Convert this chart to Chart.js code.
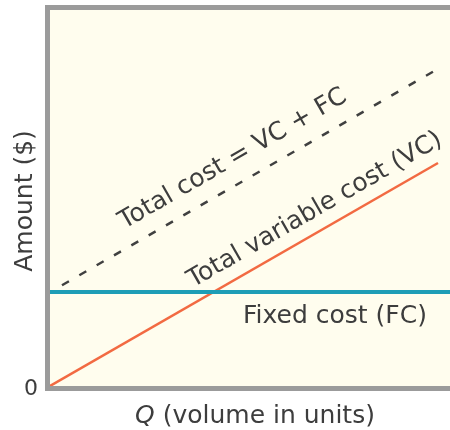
<!DOCTYPE html>
<html>
<head>
  <title>Cost Lines</title>
  <meta charset="UTF-8">
  <style>
    body {
      margin: 0;
      background: #ffffff;
    }
    #wrap {
      width: 450px;
      height: 430px;
    }
  </style>
  <script src="https://cdn.jsdelivr.net/npm/chart.js"></script>
</head>
<body>
  <div id="wrap">
    <canvas id="costChart"></canvas>
  </div>

  <script>
  // values (Q from 0 to 100, amount from 0 to 100)
  const fcQ = [0, 100];
  const fcAmount = [25, 25];

  const vcQ = [0, 97];
  const vcAmount = [0, 59.3];

  const tcQ = [3, 96.25];
  const tcAmount = [26.8, 83.9];

  const yTicks = [0];

  const fcLabel = "Fixed cost (FC)";
  const vcLabel = "Total variable cost (VC)";
  const tcLabel = "Total cost = VC + FC";
  const xTitle = "(volume in units)";
  const yTitle = "Amount ($)";

  function toPoints(xs, ys) {
    return xs.map((x, i) => ({ x: x, y: ys[i] }));
  }

  const textColor = "#3d3d3d";
  const font = "'DejaVu Sans', sans-serif";

  // background, axis lines and all the text
  const costDecor = {
    id: "costDecor",
    beforeDatasetsDraw(chart) {
      const ctx = chart.ctx;
      const a = chart.chartArea;
      ctx.save();
      ctx.fillStyle = "#fffdee";
      ctx.fillRect(a.left, a.top, a.right - a.left, a.bottom - a.top);
      ctx.restore();
    },
    afterDatasetsDraw(chart) {
      const ctx = chart.ctx;
      const a = chart.chartArea;
      const xs = chart.scales.x;
      const ys = chart.scales.y;

      ctx.save();
      // frame: left, top and bottom only
      ctx.strokeStyle = "#9b9b9b";
      ctx.lineWidth = 5;
      ctx.beginPath();
      ctx.moveTo(a.right, a.top - 2.5);
      ctx.lineTo(a.left - 2.5, a.top - 2.5);
      ctx.lineTo(a.left - 2.5, a.bottom + 2.5);
      ctx.lineTo(a.right, a.bottom + 2.5);
      ctx.stroke();

      ctx.fillStyle = textColor;

      // y tick
      ctx.font = "22px " + font;
      ctx.textAlign = "center";
      ctx.textBaseline = "middle";
      yTicks.forEach(t => {
        ctx.fillText(String(t), 31, ys.getPixelForValue(t) + 3);
      });

      // x title with italic Q
      ctx.textBaseline = "alphabetic";
      ctx.textAlign = "left";
      ctx.font = "italic 25px " + font;
      const qW = ctx.measureText("Q ").width;
      ctx.font = "25px " + font;
      const restW = ctx.measureText(xTitle).width;
      const x0 = (a.left + a.right) / 2 + 5 - (qW + restW) / 2;
      ctx.font = "italic 25px " + font;
      ctx.fillText("Q ", x0, 423);
      ctx.font = "25px " + font;
      ctx.fillText(xTitle, x0 + qW, 423);

      // y title
      ctx.save();
      ctx.translate(32, (a.top + a.bottom) / 2 + 3);
      ctx.rotate(-Math.PI / 2);
      ctx.textAlign = "center";
      ctx.fillText(yTitle, 0, 0);
      ctx.restore();

      // fixed cost label under the line
      ctx.textAlign = "left";
      ctx.fillText(fcLabel, xs.getPixelForValue(48.25), ys.getPixelForValue(fcAmount[0]) + 31);

      // labels along the sloped lines
      function slopedLabel(text, qx, qy, q, off) {
        const p1x = xs.getPixelForValue(qx[0]), p1y = ys.getPixelForValue(qy[0]);
        const p2x = xs.getPixelForValue(qx[1]), p2y = ys.getPixelForValue(qy[1]);
        const ang = Math.atan2(p2y - p1y, p2x - p1x);
        const t = (q - qx[0]) / (qx[1] - qx[0]);
        const fx = p1x + (p2x - p1x) * t;
        const fy = p1y + (p2y - p1y) * t;
        const cx = fx + Math.sin(ang) * off;
        const cy = fy - Math.cos(ang) * off;
        ctx.save();
        ctx.translate(cx, cy);
        ctx.rotate(ang);
        ctx.textAlign = "center";
        ctx.textBaseline = "middle";
        ctx.fillText(text, 0, 0);
        ctx.restore();
      }
      slopedLabel(tcLabel, tcQ, tcAmount, 48.75, 24);
      slopedLabel(vcLabel, vcQ, vcAmount, 68.8, 20.5);

      ctx.restore();
    }
  };

  const costChart = new Chart(document.getElementById("costChart").getContext("2d"), {
    type: "scatter",
    data: {
      datasets: [
        {
          label: "Fixed cost (FC)",
          data: toPoints(fcQ, fcAmount),
          showLine: true,
          borderColor: "#1e9db6",
          borderWidth: 4,
          pointRadius: 0,
          fill: false
        },
        {
          label: "Total variable cost (VC)",
          data: toPoints(vcQ, vcAmount),
          showLine: true,
          borderColor: "#f26a42",
          borderWidth: 2.5,
          pointRadius: 0,
          fill: false
        },
        {
          label: "Total cost = VC + FC",
          data: toPoints(tcQ, tcAmount),
          showLine: true,
          borderColor: "#404040",
          borderWidth: 2.5,
          borderDash: [8, 12],
          pointRadius: 0,
          fill: false
        }
      ]
    },
    options: {
      responsive: true,
      maintainAspectRatio: false,
      animation: false,
      layout: {
        padding: { left: 50, right: 0, top: 10, bottom: 44 }
      },
      plugins: {
        legend: { display: false },
        tooltip: { enabled: false }
      },
      scales: {
        x: { type: "linear", min: 0, max: 100, display: false },
        y: { type: "linear", min: 0, max: 100, display: false }
      }
    },
    plugins: [costDecor]
  });
  </script>
</body>
</html>
